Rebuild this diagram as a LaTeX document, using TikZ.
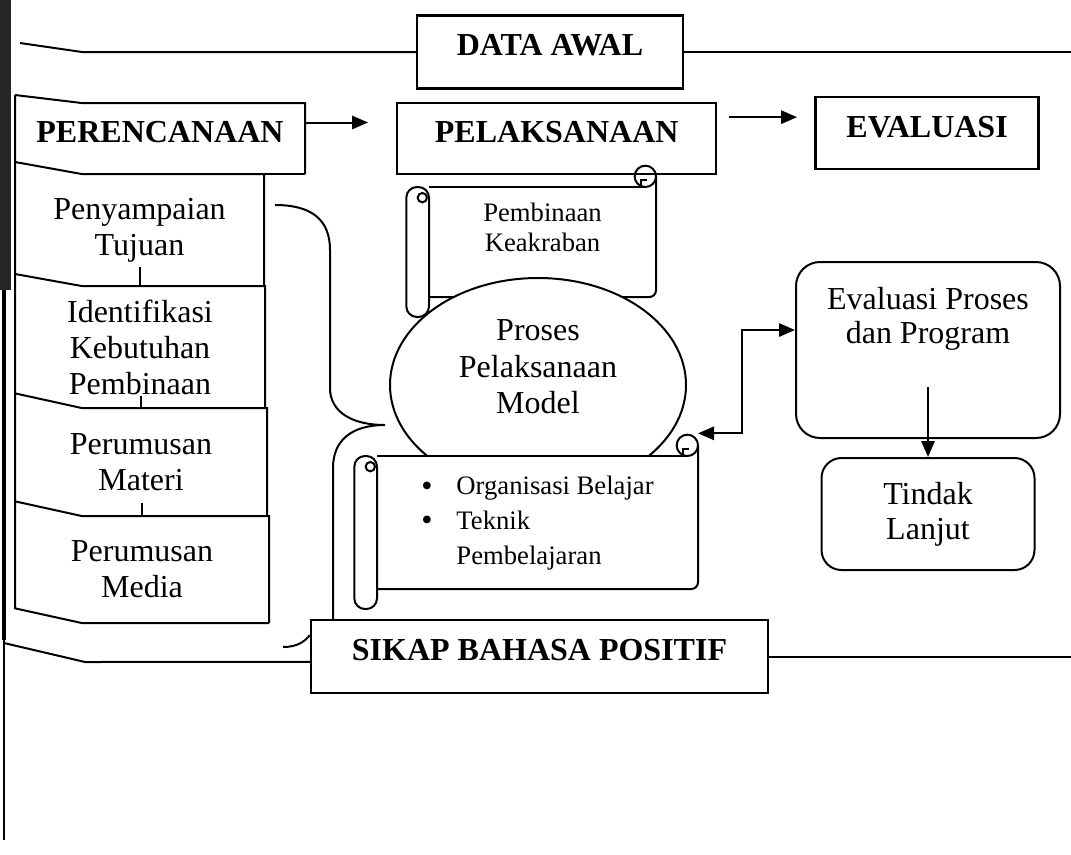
\documentclass[tikz,border=0pt]{standalone}
\usepackage{fontspec}
\setmainfont{Liberation Serif}
\usepackage{tikz}
\usetikzlibrary{arrows.meta, positioning, shapes.geometric}

% outline of a scroll round a node
\newcommand{\scrollframe}[1]{%
    \draw[rounded corners=5pt] (#1.south west) -- (#1.south east) -- ([yshift=8pt]#1.north east);
    \draw (#1.north west) -- ([xshift=-8pt]#1.north east);
    \draw ([xshift=-8pt,yshift=8pt]#1.north east) circle[radius=8pt];
    \draw ([xshift=-11pt]#1.north east) -- ++(0pt,5pt) -- ++(4pt,0pt);
    \draw[rounded corners=8pt] ([xshift=-17pt]#1.north west) rectangle ([yshift=-15pt]#1.south west);
    \draw ([xshift=-5pt,yshift=-8pt]#1.north west) circle[radius=3.5pt];
}
\newcommand{\bigdot}{\raisebox{-1pt}{\fontsize{24}{24}\selectfont\textbullet}}

\begin{document}
\begin{tikzpicture}[
    x=0.75pt, y=-0.75pt,
    line width=1.5pt,
    block/.style={
        rectangle,
        draw,
        line width=1.8pt,
        inner sep=0pt,
        text depth=10pt,
        font=\fontsize{24}{28}\selectfont\bfseries
    },
    tab/.style={
        rectangle,
        inner sep=0pt,
        anchor=north west,
        align=center,
        font=\fontsize{24}{27}\selectfont
    },
    roundblock/.style={
        rectangle,
        draw,
        rounded corners=18pt,
        inner sep=0pt,
        align=center,
        font=\fontsize{24}{26}\selectfont
    },
    scroll/.style={
        rectangle,
        inner sep=0pt,
        align=center,
        font=\fontsize{20}{22.5}\selectfont
    },
    arr/.style={-{Triangle[length=12pt,width=10pt]}}
]
    \useasboundingbox (0,0) rectangle (1071,854);

    % page edge
    \fill[black!85] (0,0) rectangle (11,290);
    \draw[line width=3pt] (4,290) -- (4,640);
    \draw[line width=1.2pt] (4,640) -- (4,840);

    % headings
    \node[block, minimum width=199.5pt, minimum height=54.75pt] (datawal) at (550,52) {DATA AWAL};
    \node[tab, text depth=10pt, font=\fontsize{24}{28}\selectfont\bfseries, minimum width=216pt, minimum height=51.75pt] (renc) at (15,103) {PERENCANAAN};
    \node[block, minimum width=239.25pt, minimum height=53.25pt, right=68.25pt of renc] (pelak) {PELAKSANAAN};
    \node[block, minimum width=167.25pt, minimum height=54pt, right=72.75pt of pelak, yshift=4pt] (evalh) {EVALUASI};
    \node[block, minimum width=342.75pt, minimum height=54.75pt] (sikap) at (539.5,656.5) {SIKAP BAHASA POSITIF};

    % left column
    \node[tab, minimum width=185.25pt, minimum height=82.5pt] (tujuan) at (renc.south west) {Penyampaian\\Tujuan};
    \node[tab, minimum width=186pt, minimum height=90pt] (ident) at (tujuan.south west) {Identifikasi\\Kebutuhan\\Pembinaan};
    \node[tab, minimum width=187.5pt, minimum height=79.5pt] (materi) at (ident.south west) {Perumusan\\Materi};
    \node[tab, minimum width=189pt, minimum height=78.75pt] (media) at (materi.south west) {Perumusan\\Media};

    \foreach \boxname/\drop in {renc/6, tujuan/9, ident/9, materi/11, media/11}
        \draw ([yshift=\drop pt]\boxname.north west) -- ([xshift=50pt]\boxname.north west) -- (\boxname.north east) -- (\boxname.south east);
    \draw ([yshift=6pt]renc.north west) -- ([yshift=11pt]media.south west) -- ([xshift=50pt]media.south west) -- (media.south east);
    \draw (renc.south east) -- (tujuan.north east);
    \foreach \boxname/\len in {ident/19, materi/12, media/13}
        \draw (\boxname.north) -- ++(0,-\len);

    % lines to the page edge
    \coordinate (topstart) at (20,43);
    \coordinate (topend) at (1071,52);
    \coordinate (botstart) at (4,643);
    \coordinate (botend) at (1071,656.5);
    \draw (topstart) -- (82,52) -- (datawal.west);
    \draw (datawal.east) -- (topend);
    \draw (botstart) -- (85,662) -- ([yshift=-4pt]sikap.west);
    \draw (sikap.east) -- (botend);
    \draw (283,647) .. controls (298,647) and (305,641) .. ([yshift=16pt]sikap.west);

    \draw[arr] ([yshift=12pt]renc.east) -- ([xshift=-21pt,yshift=12pt]pelak.west);
    \draw[arr] ([xshift=9pt,yshift=16pt]pelak.east) -- ([xshift=-13pt,yshift=12pt]evalh.west);

    % middle
    \node[scroll, minimum width=168.75pt, minimum height=81pt] (keakraban) at (542.5,242) {Pembinaan\\Keakraban\\~};
    \scrollframe{keakraban}

    \node[ellipse, draw, fill=white, minimum width=222pt, minimum height=160.5pt, inner sep=0pt,
          align=center, font=\fontsize{24}{27.5}\selectfont] (proses) at (538,385) {Proses\\Pelaksanaan\\Model\\~};

    \node[scroll, fill=white, minimum width=239.25pt, minimum height=98.25pt, font=\fontsize{20}{26}\selectfont] (organisasi) at (537.5,522.5) {%
        \begin{tabular}{@{}l@{\hspace{18pt}}l@{}}
            \bigdot & Organisasi Belajar\\
            \bigdot & Teknik\\
                    & Pembelajaran
        \end{tabular}};
    \scrollframe{organisasi}

    \draw (275,205) .. controls (312,205) and (330,220) .. (330,250) -- (330,388)
        .. controls (330,412) and (352,425) .. (385,425)
        .. controls (352,425) and (333,440) .. (333,468) -- (sikap.north -| 333,0);

    % right
    \node[roundblock, minimum width=198pt, minimum height=132pt] (evalp) at (928,350) {Evaluasi Proses\\dan Program\\~\\~};
    \node[roundblock, rounded corners=15pt, minimum width=159.75pt, minimum height=84pt] (tindak) at (928,514) {Tindak\\Lanjut};
    \draw[arr] ([yshift=-28pt]evalp.center) -- (tindak.north);
    \coordinate (curl) at ([yshift=17pt]organisasi.north east);
    \draw[{Triangle[length=12pt,width=10pt]}-{Triangle[length=12pt,width=10pt]}] (curl) -- ++(44,0) |- ([yshift=15pt]evalp.west);

\end{tikzpicture}
\end{document}
